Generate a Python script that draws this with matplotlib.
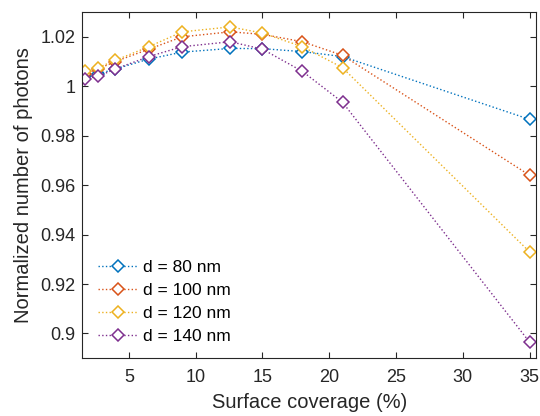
import matplotlib

matplotlib.use("Agg")
import matplotlib.pyplot as plt

plt.rcParams["font.family"] = ["Liberation Sans", "DejaVu Sans"]

coverage = [1.7, 2.7, 4.0, 6.5, 9.0, 12.6, 15.0, 18.0, 21.0, 35.0]
photons_80 = [1.004, 1.005, 1.007, 1.011, 1.0138, 1.0153, 1.0152, 1.014, 1.012, 0.9866]
photons_100 = [1.005, 1.007, 1.010, 1.015, 1.020, 1.022, 1.021, 1.018, 1.0125, 0.9640]
photons_120 = [1.006, 1.0075, 1.0105, 1.016, 1.022, 1.024, 1.0215, 1.016, 1.0075, 0.9330]
photons_140 = [1.003, 1.004, 1.007, 1.012, 1.016, 1.018, 1.015, 1.006, 0.9935, 0.8965]
labels = ["d = 80 nm", "d = 100 nm", "d = 120 nm", "d = 140 nm"]
colors = ["#0072BD", "#D95319", "#EDB120", "#7E2F8E"]

fig = plt.figure(figsize=(5.4, 4.16), dpi=100)
ax = fig.add_axes([0.152, 0.139, 0.841, 0.832])

for values, label, color in zip([photons_80, photons_100, photons_120, photons_140], labels, colors):
    ax.plot(
        coverage,
        values,
        linestyle=":",
        linewidth=1.0,
        color=color,
        marker="D",
        markersize=6.5,
        markerfacecolor="white",
        markeredgewidth=1.1,
        label=label,
    )

ax.set_xlim(1.5, 35.5)
ax.set_ylim(0.89, 1.03)
ax.set_xticks([5, 10, 15, 20, 25, 30, 35])
ax.set_yticks([0.9, 0.92, 0.94, 0.96, 0.98, 1.0, 1.02])
ax.set_yticklabels(["0.9", "0.92", "0.94", "0.96", "0.98", "1", "1.02"])
ax.tick_params(direction="in", top=True, right=True, labelsize=13, colors="#262626", length=4)
ax.tick_params(axis="x", pad=8)
ax.tick_params(axis="y", pad=5)
for spine in ax.spines.values():
    spine.set_color("#262626")
    spine.set_linewidth(0.8)

ax.set_xlabel("Surface coverage (%)", fontsize=14.5, color="#262626", labelpad=5)
ax.set_ylabel("Normalized number of photons", fontsize=14.5, color="#262626", labelpad=5)

ax.legend(
    loc="lower left",
    bbox_to_anchor=(0.0, -0.003),
    frameon=False,
    fontsize=12.5,
    handlelength=2.3,
    handletextpad=0.3,
    labelspacing=0.45,
)

fig.savefig("out.png", dpi=100)
